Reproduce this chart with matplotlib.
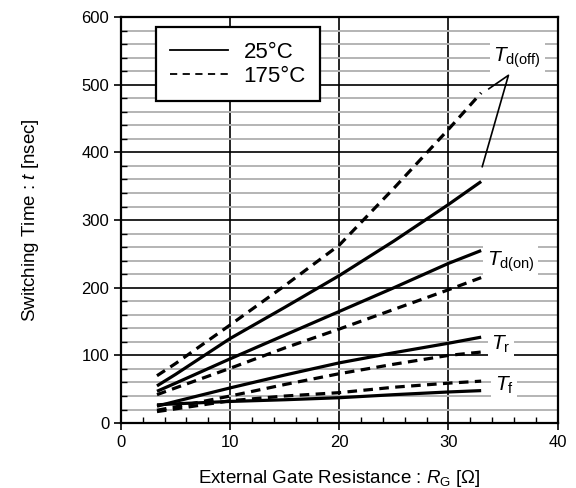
import matplotlib
matplotlib.use("Agg")
import matplotlib.pyplot as plt
from matplotlib.lines import Line2D
from matplotlib.ticker import MultipleLocator

plt.rcParams['font.family'] = ['Liberation Sans', 'DejaVu Sans']
plt.rcParams['mathtext.fontset'] = 'custom'
plt.rcParams['mathtext.rm'] = 'Liberation Sans'
plt.rcParams['mathtext.it'] = 'Liberation Sans:italic'

# External gate resistance [ohm]
rg = [3.3, 5, 10, 15, 20, 25, 30, 33]

# Switching times [nsec], 25 degC
td_off_25 = [55, 72, 125, 171, 218, 269, 323, 357]
td_on_25 = [47, 59, 95, 130, 165, 200, 236, 255]
tr_25 = [25, 32, 52, 71, 89, 104, 118, 127]
tf_25 = [27, 28.5, 32, 34.5, 37.5, 42, 46, 48]

# Switching times [nsec], 175 degC
td_off_175 = [70, 88, 145, 203, 263, 347, 434, 488]
td_on_175 = [42, 52, 81, 111, 139, 168, 197, 215]
tr_175 = [19, 24, 40, 57, 73, 87, 100, 105]
tf_175 = [17, 21, 33, 40, 45, 53, 59, 62]

labels = [r"$T_{\rm d(off)}$", r"$T_{\rm d(on)}$", r"$T_{\rm r}$", r"$T_{\rm f}$"]

fig = plt.figure(figsize=(5.76, 4.88), dpi=100)
ax = fig.add_axes([0.210, 0.133, 0.758, 0.832])

ax.set_xlim(0, 40)
ax.set_ylim(0, 600)
ax.xaxis.set_major_locator(MultipleLocator(10))
ax.xaxis.set_minor_locator(MultipleLocator(2))
ax.yaxis.set_major_locator(MultipleLocator(100))
ax.yaxis.set_minor_locator(MultipleLocator(20))

ax.grid(which="minor", axis="y", color="#b4b4b4", lw=1.4)
ax.grid(which="major", axis="both", color="black", lw=1.2)
ax.set_axisbelow(True)

for s in ax.spines.values():
    s.set_linewidth(1.6)
ax.tick_params(which="major", direction="out", length=5, width=1.2, labelsize=12)
ax.tick_params(which="minor", direction="in", length=4, width=1.0)

solid = dict(color="black", lw=2.3, solid_capstyle="butt", solid_joinstyle="round")
dashed = dict(color="black", lw=2.3, ls=(0, (3, 2)))
for y in [td_off_25, td_on_25, tr_25, tf_25]:
    ax.plot(rg, y, **solid)
for y in [td_off_175, td_on_175, tr_175, tf_175]:
    ax.plot(rg, y, **dashed)

# curve labels
box = dict(facecolor="white", edgecolor="none", pad=2.5)
ax.text(36.3, 540, labels[0], fontsize=15, ha="center", va="center", bbox=box)
ax.text(35.7, 239, labels[1], fontsize=15, ha="center", va="center", bbox=box)
ax.text(34.8, 117, labels[2], fontsize=15, ha="center", va="center", bbox=box)
ax.text(35.1, 56, labels[3], fontsize=15, ha="center", va="center", bbox=box)

# leader lines for T_d(off)
ax.plot([33.7, 35.5, 33.1], [494, 514, 379], color="black", lw=1.2)

handles = [Line2D([], [], color="black", lw=1.3),
           Line2D([], [], color="black", lw=1.3, ls=(0, (4, 3)))]
leg = ax.legend(handles, ["25°C", "175°C"], loc="upper left",
                bbox_to_anchor=(0.080, 0.975), borderaxespad=0, fontsize=16,
                frameon=True, fancybox=False, framealpha=1, edgecolor="black",
                handlelength=2.6, handletextpad=0.7, borderpad=0.65,
                labelspacing=0.13)
leg.get_frame().set_linewidth(1.6)

ax.set_xlabel(r"External Gate Resistance : $R_{\rm G}$ [$\Omega$]", fontsize=13.5, labelpad=13)
ax.set_ylabel(r"Switching Time : $t$ [nsec]", fontsize=13.5, labelpad=29)

fig.savefig("out.png", dpi=100)
